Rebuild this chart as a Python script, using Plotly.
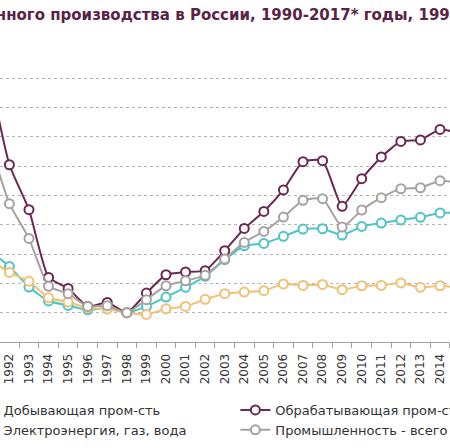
import plotly.graph_objects as go

years = [str(y) for y in range(1991, 2016)]

# 1998 = 100
mining = [142.3, 131.6, 117.5, 108.0, 105.0, 102.0, 103.2, 100.0, 104.3, 110.7,
          117.3, 124.8, 136.2, 145.7, 147.3, 152.1, 157.1, 157.3, 153.0, 158.9,
          161.2, 163.3, 165.1, 168.1, 168.1]
manufacturing = [262.0, 201.0, 170.3, 124.1, 116.6, 104.3, 107.0, 100.0, 113.4, 125.9,
                 127.8, 128.7, 142.3, 157.5, 169.1, 183.8, 203.1, 203.8, 172.6, 191.5,
                 206.3, 216.9, 217.9, 225.1, 222.5]
utilities = [136.2, 127.5, 121.4, 110.2, 107.3, 103.2, 102.5, 100.0, 98.8, 102.7,
             104.3, 109.1, 113.0, 114.1, 115.0, 119.6, 118.6, 119.3, 115.7, 118.4,
             118.6, 120.3, 117.3, 118.4, 116.9]
industry_total = [216.0, 174.4, 150.7, 118.0, 113.0, 104.3, 104.8, 100.0, 108.9, 118.4,
                  121.8, 125.5, 136.7, 148.0, 155.5, 165.3, 176.7, 177.8, 158.5, 170.1,
                  178.5, 184.6, 185.3, 190.1, 188.7]

series = [
    ("Добывающая пром-сть", mining, "#4ec4c6", "legend"),
    ("Обрабатывающая пром-сть", manufacturing, "#6b2852", "legend2"),
    ("Электроэнергия, газ, вода", utilities, "#f0c174", "legend"),
    ("Промышленность - всего", industry_total, "#a7a2a0", "legend2"),
]

title = "Индекс промышленного производства в России, 1990-2017* годы, 1998=100%"

fig = go.Figure()
for name, values, color, legend in series:
    fig.add_trace(
        go.Scatter(
            x=years,
            y=values,
            name=name,
            mode="lines+markers",
            line=dict(color=color, width=2, shape="spline", smoothing=0.5),
            marker=dict(symbol="circle", size=9, color="white", line=dict(width=2, color=color)),
            legend=legend,
        )
    )

legend_top = (448 - 395) / 448

fig.update_layout(
    width=450,
    height=448,
    template="plotly_white",
    plot_bgcolor="white",
    paper_bgcolor="white",
    margin=dict(l=0, r=0, t=49, b=106, autoexpand=False),
    font=dict(family="DejaVu Sans", size=13, color="#333333"),
    showlegend=True,
    xaxis=dict(
        type="category",
        range=[0.52, 23.51],
        tickangle=-90,
        tickson="boundaries",
        ticks="outside",
        ticklen=5,
        tickcolor="#a0a0a0",
        ticklabelstandoff=6,
        showline=True,
        linecolor="#a0a0a0",
        showgrid=False,
        tickfont=dict(size=12, color="#333333"),
    ),
    yaxis=dict(
        range=[80, 280],
        dtick=20,
        showticklabels=False,
        showgrid=True,
        gridcolor="#b4b4b4",
        griddash="dot",
        zeroline=False,
        showline=False,
    ),
    legend=dict(
        orientation="v",
        x=-0.081,
        xanchor="left",
        y=legend_top,
        yref="container",
        yanchor="top",
        font=dict(size=13, color="#333333"),
        bgcolor="rgba(0,0,0,0)",
    ),
    legend2=dict(
        orientation="v",
        x=0.523,
        xanchor="left",
        y=legend_top,
        yref="container",
        yanchor="top",
        font=dict(size=13, color="#333333"),
        bgcolor="rgba(0,0,0,0)",
    ),
    annotations=[
        dict(
            text="<b>" + title + "</b>",
            xref="paper",
            yref="paper",
            x=-0.378,
            xanchor="left",
            y=(342 - 15) / 293,
            yanchor="middle",
            showarrow=False,
            font=dict(size=15, color="#5a2346"),
        )
    ],
)

# the page body has a default 8px margin; drop it so the figure starts at the window corner
fig.write_html(
    "out.html",
    config={"displayModeBar": False},
    post_script="document.body.style.margin = '0';",
)
